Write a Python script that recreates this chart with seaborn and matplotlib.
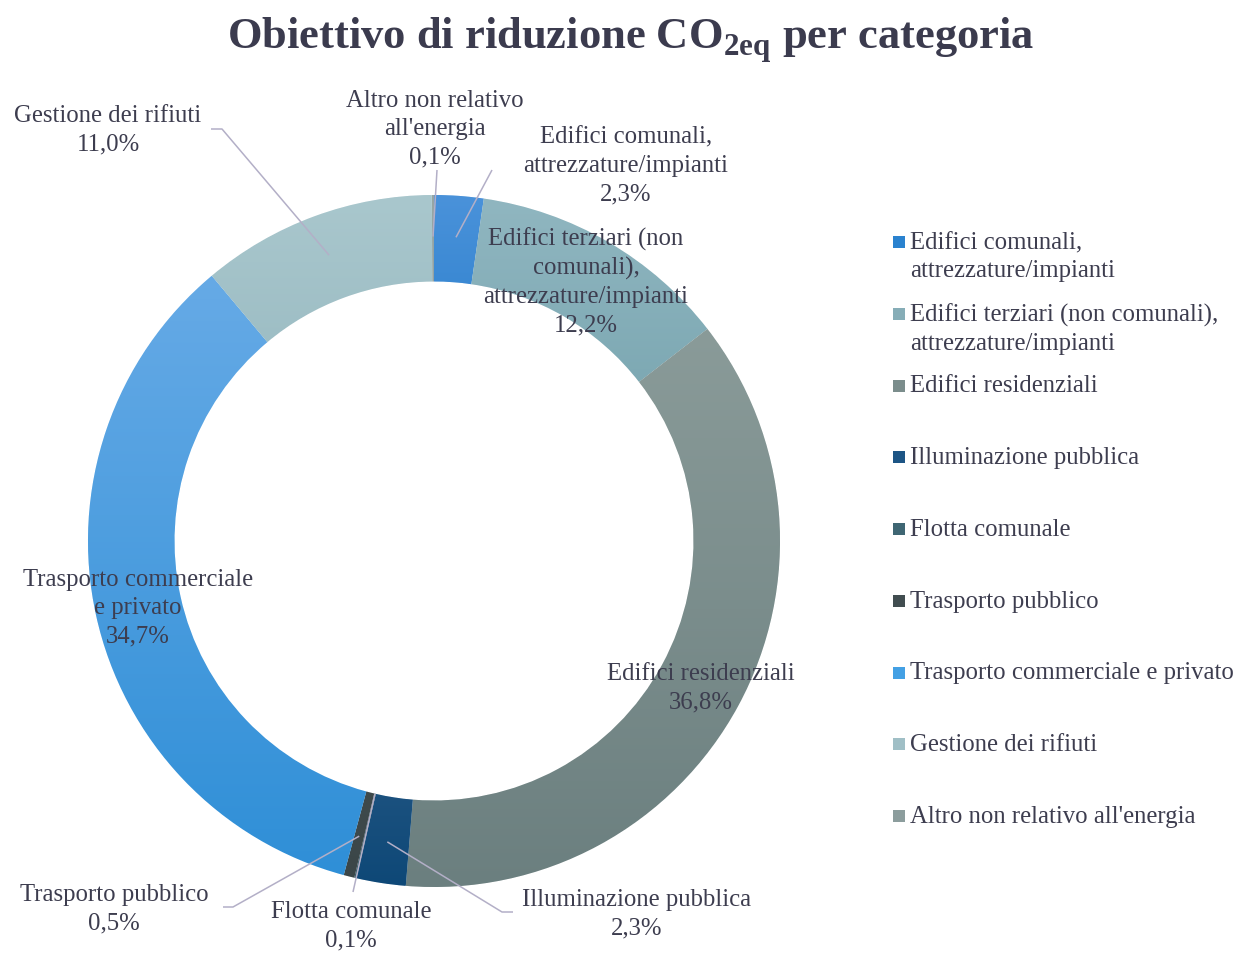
import numpy as np
import matplotlib
matplotlib.use("Agg")
import matplotlib.pyplot as plt
from matplotlib.patches import Rectangle
from matplotlib.colors import to_rgb
import seaborn as sns

# ---------------- data ----------------
categories = [
    "Edifici comunali, attrezzature/impianti",
    "Edifici terziari (non comunali), attrezzature/impianti",
    "Edifici residenziali",
    "Illuminazione pubblica",
    "Flotta comunale",
    "Trasporto pubblico",
    "Trasporto commerciale e privato",
    "Gestione dei rifiuti",
    "Altro non relativo all'energia",
]
values = [2.3, 12.2, 36.8, 2.3, 0.1, 0.5, 34.7, 11.0, 0.1]
slice_labels = [
    "Edifici comunali,\nattrezzature/impianti",
    "Edifici terziari (non\ncomunali),\nattrezzature/impianti",
    "Edifici residenziali",
    "Illuminazione pubblica",
    "Flotta comunale",
    "Trasporto pubblico",
    "Trasporto commerciale\ne privato",
    "Gestione dei rifiuti",
    "Altro non relativo\nall'energia",
]
legend_labels = [
    "Edifici comunali,\nattrezzature/impianti",
    "Edifici terziari (non comunali),\nattrezzature/impianti",
    "Edifici residenziali",
    "Illuminazione pubblica",
    "Flotta comunale",
    "Trasporto pubblico",
    "Trasporto commerciale e privato",
    "Gestione dei rifiuti",
    "Altro non relativo all'energia",
]
title_text = r"Obiettivo di riduzione CO$_{\mathbf{2eq}}$ per categoria"

# ---------------- style ----------------
top_colors = ["#4a92da", "#90b6c0", "#8a9b99", "#3f6b95", "#4a6f7c", "#4a5658",
              "#66aae6", "#a9c7cd", "#97a6a6"]
bot_colors = ["#0f6ebf", "#6e9ea9", "#6b7f7f", "#0e4877", "#3a5f6c", "#3b4648",
              "#2f8fd7", "#8fb2ba", "#84999a"]
legend_colors = ["#2a82cf", "#86adb7", "#7b8d8c", "#1d5585", "#3f6673", "#414d50",
                 "#43a0e4", "#a0bfc6", "#8c9d9d"]
text_color = "#3d3d4f"
leader_color = "#b3afc7"

sns.set_theme(style="white")
plt.rcParams["font.family"] = ["Liberation Serif", "DejaVu Serif"]
plt.rcParams["mathtext.fontset"] = "custom"
plt.rcParams["mathtext.bf"] = "Liberation Serif:bold"
plt.rcParams["mathtext.rm"] = "Liberation Serif"

W, H = 1248, 965
CX, CY, R = 434, 541, 346


def p2d(px, py):
    return ((px - CX) / R, (CY - py) / R)


fig = plt.figure(figsize=(W / 100, H / 100), dpi=100)
ax = fig.add_axes([0, 0, 1, 1])
ax.set_axis_off()

wedges, _ = ax.pie(values, startangle=90, counterclock=False, radius=1.0,
                   colors=legend_colors,
                   wedgeprops=dict(width=0.25, edgecolor="white", linewidth=0.5))

# vertical gradient fill for each ring segment
for w, c1, c2 in zip(wedges, top_colors, bot_colors):
    v = w.get_path().vertices
    xmin, xmax = v[:, 0].min(), v[:, 0].max()
    ymin, ymax = v[:, 1].min(), v[:, 1].max()
    t = np.linspace(0, 1, 128)[:, None]
    grad = (1 - t) * np.array(to_rgb(c1)) + t * np.array(to_rgb(c2))
    img = ax.imshow(grad[:, None, :], extent=(xmin, xmax, ymin, ymax), origin="upper",
                    aspect="auto", interpolation="bilinear", zorder=w.get_zorder() + 0.5)
    img.set_clip_path(w)

LFS = 17.8
LSP = 1.36

def pct(v):
    return f"{v:.1f}%".replace(".", ",")

# label centres (pixels) and leader endpoints
label_pos = [(626, 166), (586, 282), (701, 688), (637, 914), (351, 926),
             (114, 909), (138, 608), (108, 130), (435, 129)]
leader_pts = {
    0: [(492, 170)],
    3: [(502, 912), (513, 912)],
    4: [(353, 892)],
    5: [(233, 907), (223, 907)],
    7: [(222, 129), (211, 129)],
    8: [(437, 170)],
}
anchor_r = {0: 0.88, 3: 0.88, 4: 0.75, 5: 0.88, 7: 0.88, 8: 0.88}

for i, (w, lab, val) in enumerate(zip(wedges, slice_labels, values)):
    x, y = p2d(*label_pos[i])
    ax.text(x, y, f"{lab}\n{pct(val)}", ha="center", va="center", multialignment="center",
            fontsize=LFS, color=text_color, zorder=6, linespacing=LSP)
    if i in leader_pts:
        ang = np.deg2rad((w.theta1 + w.theta2) / 2)
        r = anchor_r[i]
        xs = [r * np.cos(ang)] + [p2d(*p)[0] for p in leader_pts[i]]
        ys = [r * np.sin(ang)] + [p2d(*p)[1] for p in leader_pts[i]]
        ax.plot(xs, ys, color=leader_color, lw=1.1, zorder=5, solid_capstyle="butt")

# legend (manual, Excel-like fixed row pitch)
leg_y0, leg_pitch = 242, 71.75
for i, (lab, col) in enumerate(zip(legend_labels, legend_colors)):
    yc = leg_y0 + i * leg_pitch
    x0, y0 = p2d(893, yc + 6)
    ax.add_patch(Rectangle((x0, y0), 12 / R, 12 / R, facecolor=col, edgecolor="none", zorder=6))
    tx, ty = p2d(910, yc - 10)
    ax.text(tx, ty, lab, ha="left", va="top", fontsize=LFS, color=text_color,
            linespacing=LSP, zorder=6)

# title
tx, ty = p2d(631, 40)
ax.text(tx, ty, title_text, ha="center", va="center", fontsize=32, fontweight="bold",
        color="#3b3b4e", zorder=6)

x0, y0 = p2d(0, H)
x1, y1 = p2d(W, 0)
ax.set_xlim(x0, x1)
ax.set_ylim(y0, y1)
ax.set_aspect("equal", adjustable="box")

fig.savefig("out.png", dpi=100, facecolor="white")
